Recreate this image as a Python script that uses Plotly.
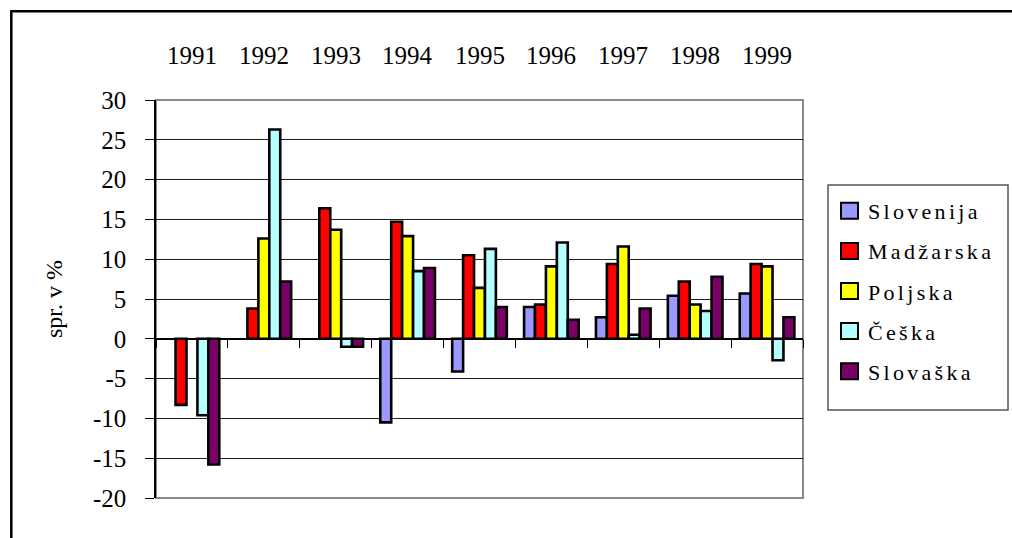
import plotly.graph_objects as go

# Annual change by country, in percent
years = ["1991", "1992", "1993", "1994", "1995", "1996", "1997", "1998", "1999"]
slovenija = [None, None, None, -10.5, -4.1, 4.0, 2.7, 5.4, 5.7]
madzarska = [-8.3, 3.8, 16.4, 14.7, 10.5, 4.3, 9.4, 7.2, 9.4]
poljska = [None, 12.6, 13.7, 12.9, 6.4, 9.1, 11.6, 4.3, 9.1]
ceska = [-9.6, 26.3, -1.0, 8.5, 11.3, 12.1, 0.5, 3.5, -2.7]
slovaska = [-15.8, 7.2, -1.0, 8.9, 4.0, 2.4, 3.8, 7.8, 2.7]

series_names = ["Slovenija", "Madžarska", "Poljska", "Češka", "Slovaška"]
series_values = [slovenija, madzarska, poljska, ceska, slovaska]
series_colors = ["#9999FF", "#FF0000", "#FFFF00", "#B6FFFF", "#7A0068"]

y_ticks = [-20, -15, -10, -5, 0, 5, 10, 15, 20, 25, 30]

W, H = 1012, 538
# plot area in pixels
PL, PR, PT, PB = 156, 803, 100, 498
FONT = "'Liberation Serif', 'Times New Roman', Times, serif"


def px_x(x):
    return (x - PL) / (PR - PL)


def px_y(y):
    return (PB - y) / (PB - PT)


fig = go.Figure()
for i, (name, vals, col) in enumerate(zip(series_names, series_values, series_colors)):
    fig.add_trace(go.Bar(
        x=years, y=vals, name=name, legendgroup=f"g{i}",
        marker=dict(color=col, line=dict(color="black", width=2.6)),
        hoverinfo="skip",
    ))

y_lo, y_hi = y_ticks[0], y_ticks[-1]

fig.update_layout(
    width=W, height=H,
    margin=dict(l=PL, r=W - PR, t=PT, b=H - PB),
    paper_bgcolor="white", plot_bgcolor="white",
    barmode="group", bargap=0.24, bargroupgap=0,
    font=dict(family=FONT, color="black", size=25),
    showlegend=True,
    legend=dict(
        x=px_x(828), y=px_y(190), xanchor="left", yanchor="top",
        font=dict(family=FONT, size=22, color="black"),
        bgcolor="rgba(0,0,0,0)", borderwidth=0,
        tracegroupgap=8.5, traceorder="grouped",
    ),
    xaxis=dict(
        type="category", categoryarray=years,
        anchor="free", position=(0 - y_lo) / (y_hi - y_lo), side="bottom",
        showticklabels=False, showgrid=False,
        ticks="outside", tickson="boundaries", ticklen=8, tickcolor="black", tickwidth=1,
        showline=True, linecolor="black", linewidth=1,
        range=[-0.5, len(years) - 0.5],
    ),
    yaxis=dict(
        range=[y_lo, y_hi],
        tickmode="array", tickvals=y_ticks, ticktext=[str(v) for v in y_ticks],
        ticks="outside", ticklen=9, tickcolor="black", tickwidth=1,
        ticklabelstandoff=14,
        showline=True, linecolor="black", linewidth=1.5,
        showgrid=True, gridcolor="#1f1f1f", gridwidth=1,
        zeroline=True, zerolinecolor="black", zerolinewidth=1,
        tickfont=dict(family=FONT, size=25, color="black"),
        title=dict(text="spr. v %", font=dict(family=FONT, size=24, color="black"), standoff=24),
    ),
)

# category labels above the plot
for i, yr in enumerate(years):
    fig.add_annotation(
        x=i, y=1, xref="x", yref="paper", text=yr, showarrow=False,
        yanchor="middle", yshift=PT - 55,
        font=dict(family=FONT, size=25, color="black"),
    )

# plot-area frame (gray), legend box and chart border
fig.add_shape(type="rect", xref="paper", yref="paper", x0=0, x1=1, y0=0, y1=1,
              line=dict(color="#8a8a8a", width=2), layer="below")
fig.add_shape(type="rect", xref="paper", yref="paper",
              x0=px_x(828), x1=px_x(1008), y0=px_y(410), y1=px_y(185),
              line=dict(color="#555555", width=1.5))
fig.add_shape(type="rect", xref="paper", yref="paper",
              x0=px_x(11.3), x1=px_x(W + 40), y0=px_y(H + 40), y1=px_y(11.3),
              line=dict(color="black", width=2.5))

# legend styling: wider tracking, larger swatches, and a clip region wide enough
legend_js = """
document.querySelectorAll('.legendtext').forEach(function (t) {
    t.style.letterSpacing = '3.3px';
});
document.querySelectorAll('.legendpoints path').forEach(function (p) {
    p.setAttribute('d', 'M10,8H-7V-8H10Z');
    p.style.strokeWidth = '2px';
});
document.querySelectorAll('clipPath[id^="legend"] rect').forEach(function (r) {
    r.setAttribute('width', '260');
});
"""

fig.write_html("out.html", post_script=legend_js)
